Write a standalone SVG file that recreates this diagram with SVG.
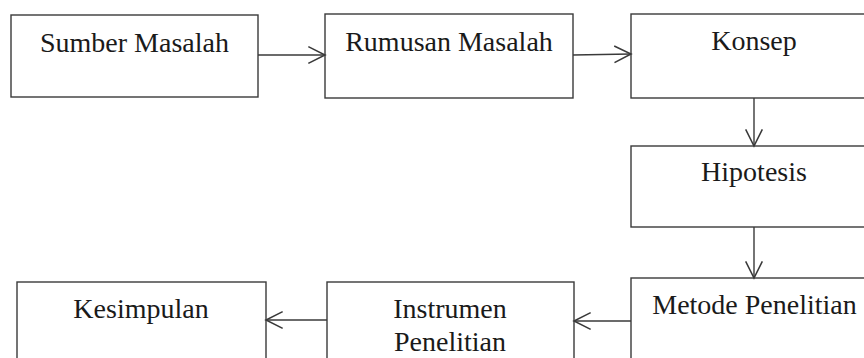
<svg xmlns="http://www.w3.org/2000/svg" width="864" height="358" viewBox="0 0 864 358">
<style>
.box{fill:#fff;stroke:#3a3a3a;stroke-width:1.4}
.lbl{font-family:"Liberation Serif","Times New Roman",serif;font-size:28px;fill:#1a1a1a;text-anchor:middle}
.con{fill:none;stroke:#3a3a3a;stroke-width:1.4}
</style>
<defs>
<marker id="arr" markerUnits="userSpaceOnUse" markerWidth="20" markerHeight="20" viewBox="-16 -9 18 18" refX="0" refY="0" orient="auto">
<path d="M-15,-7.5 L0,0 L-15,7.5" fill="none" stroke="#3a3a3a" stroke-width="1.4"/>
</marker>
</defs>
<rect width="864" height="358" fill="#fff"/>
<g id="sumber-masalah"><rect class="box" x="11" y="15" width="247" height="82"/><text class="lbl" x="134.5" y="52">Sumber Masalah</text></g>
<g id="rumusan-masalah"><rect class="box" x="325" y="14" width="248" height="84"/><text class="lbl" x="449" y="51">Rumusan Masalah</text></g>
<g id="konsep"><rect class="box" x="631" y="14" width="246" height="84"/><text class="lbl" x="754" y="50">Konsep</text></g>
<g id="hipotesis"><rect class="box" x="631" y="146" width="246" height="81"/><text class="lbl" x="754" y="181">Hipotesis</text></g>
<g id="metode-penelitian"><rect class="box" x="631" y="278" width="246" height="90"/><text class="lbl" x="754.5" y="314">Metode Penelitian</text></g>
<g id="instrumen-penelitian"><rect class="box" x="327" y="282" width="247" height="90"/><text class="lbl" x="450" y="318">Instrumen</text><text class="lbl" x="450" y="351">Penelitian</text></g>
<g id="kesimpulan"><rect class="box" x="17" y="282" width="249" height="90"/><text class="lbl" x="141" y="318">Kesimpulan</text></g>
<g id="connectors">
<line class="con" x1="258" y1="55" x2="325" y2="55" marker-end="url(#arr)"/>
<line class="con" x1="573" y1="55" x2="631" y2="54" marker-end="url(#arr)"/>
<line class="con" x1="754" y1="98" x2="754" y2="146" marker-end="url(#arr)"/>
<line class="con" x1="754" y1="227" x2="754" y2="278" marker-end="url(#arr)"/>
<line class="con" x1="631" y1="321" x2="574" y2="321" marker-end="url(#arr)"/>
<line class="con" x1="327" y1="320" x2="266" y2="320" marker-end="url(#arr)"/>
</g>
</svg>
